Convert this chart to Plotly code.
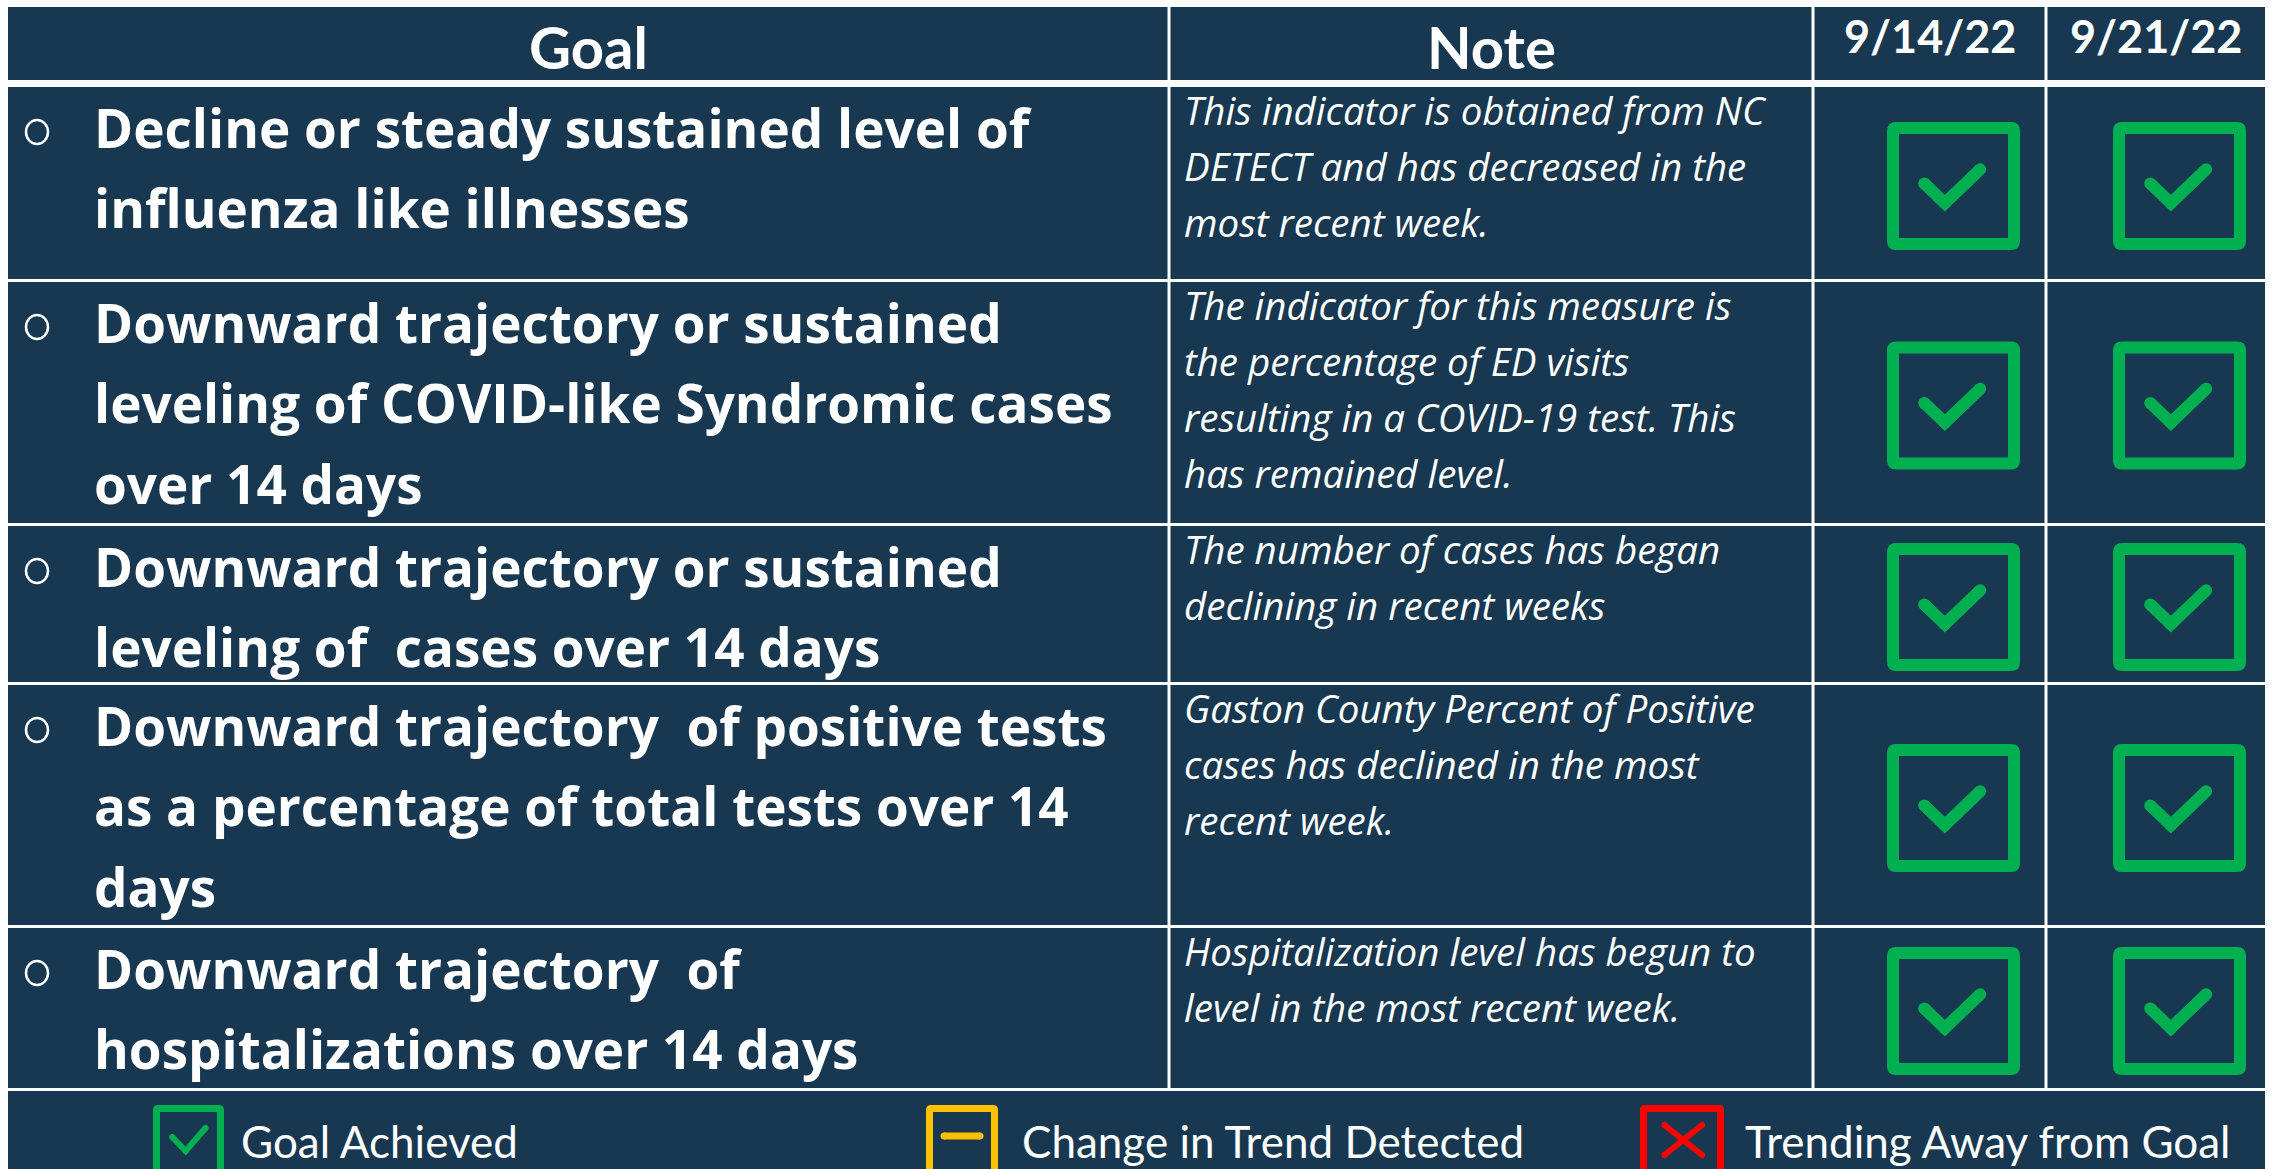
import plotly.graph_objects as go

# ---------------- data ----------------
headers = ["Goal", "Note"]
dates = ["9/14/22", "9/21/22"]

goals = [
    ["Decline or steady sustained level of", "influenza like illnesses"],
    ["Downward trajectory or sustained", "leveling of COVID-like Syndromic cases", "over 14 days"],
    ["Downward trajectory or sustained", "leveling of  cases over 14 days"],
    ["Downward trajectory  of positive tests", "as a percentage of total tests over 14", "days"],
    ["Downward trajectory  of", "hospitalizations over 14 days"],
]

notes = [
    ["This indicator is obtained from NC", "DETECT and has decreased in the", "most recent week."],
    ["The indicator for this measure is", "the percentage of ED visits",
     "resulting in a COVID-19 test. This", "has remained level."],
    ["The number of cases has began", "declining in recent weeks"],
    ["Gaston County Percent of Positive", "cases has declined in the most", "recent week."],
    ["Hospitalization level has begun to", "level in the most recent week."],
]

status = [
    ["achieved", "achieved"],
    ["achieved", "achieved"],
    ["achieved", "achieved"],
    ["achieved", "achieved"],
    ["achieved", "achieved"],
]

legend_keys = ["achieved", "change", "away"]
legend_labels = ["Goal Achieved", "Change in Trend Detected", "Trending Away from Goal"]

# ---------------- layout / style ----------------
W, H = 2272, 1169
NAVY = "#173850"
GREEN = "#00B050"
YELLOW = "#FFC000"
RED = "#FF0000"
HEAD_FONT = "Lato"
BODY_FONT = "Open Sans"

col_edges = [8, 1169, 1813, 2046, 2265]
header_span = (7, 80)
row_spans = [(87, 279), (282, 523), (526, 682), (685, 925), (928, 1088)]
legend_span = (1091, 1190)
legend_box_x = [(153, 224), (926, 998), (1640, 1724)]
legend_box_y = (1105, 1190)
legend_text_x = [239, 1020, 1743]

shapes = []
annotations = []
fig = go.Figure()


def rrect(x0, y0, x1, y1, r):
    return (f"M{x0+r},{y0} L{x1-r},{y0} Q{x1},{y0} {x1},{y0+r} L{x1},{y1-r} "
            f"Q{x1},{y1} {x1-r},{y1} L{x0+r},{y1} Q{x0},{y1} {x0},{y1-r} "
            f"L{x0},{y0+r} Q{x0},{y0} {x0+r},{y0} Z")


def cell(x0, x1, y0, y1):
    shapes.append(dict(type="rect", xref="x", yref="y", x0=x0, x1=x1, y0=y0, y1=y1,
                       fillcolor=NAVY, line=dict(width=0), layer="below"))


def stroke(xs, ys, color, width):
    fig.add_trace(go.Scatter(x=xs, y=ys, mode="lines+markers",
                             line=dict(color=color, width=width),
                             marker=dict(color=color, size=width, line=dict(width=0)),
                             hoverinfo="skip", showlegend=False))


def text(x, y, s, size, xanchor="left", bold=False, italic=False, family=BODY_FONT):
    annotations.append(dict(x=x, y=y, xref="x", yref="y", text=s, showarrow=False,
                            xanchor=xanchor, yanchor="middle",
                            font=dict(family=family, size=size, color="white",
                                      weight="bold" if bold else "normal",
                                      style="italic" if italic else "normal")))


def icon(kind, x0, y0, x1, y1, sw, r):
    color = {"achieved": GREEN, "change": YELLOW, "away": RED}[kind]
    shapes.append(dict(type="path", xref="x", yref="y", path=rrect(x0, y0, x1, y1, r),
                       fillcolor=color, line=dict(width=0), layer="below"))
    shapes.append(dict(type="rect", xref="x", yref="y", x0=x0 + sw, x1=x1 - sw,
                       y0=y0 + sw, y1=y1 - sw, fillcolor=NAVY, line=dict(width=0),
                       layer="below"))
    return color, x1 - x0, y1 - y0


gap = 1.5
# header cells and body cells
for c in range(4):
    xa = col_edges[c] + (gap if c > 0 else 0)
    xb = col_edges[c + 1] - (gap if c < 3 else 0)
    cell(xa, xb, *header_span)
    for (ya, yb) in row_spans:
        cell(xa, xb, ya, yb)
# legend band
cell(col_edges[0], col_edges[-1], *legend_span)

# header text
text((col_edges[0] + col_edges[1]) / 2, 46, headers[0], 58, "center", bold=True, family=HEAD_FONT)
text((col_edges[1] + col_edges[2]) / 2, 46, headers[1], 58, "center", bold=True, family=HEAD_FONT)
for j, d in enumerate(dates):
    text((col_edges[2 + j] + col_edges[3 + j]) / 2, 36, d, 45, "center", bold=True, family=HEAD_FONT)

# goal + note text
for i, (ya, yb) in enumerate(row_spans):
    for k, line in enumerate(goals[i]):
        text(92, ya + 40 + k * 80.5, line, 53, bold=True)
    # bullet
    by = ya + 45
    shapes.append(dict(type="circle", xref="x", yref="y", x0=26, x1=48, y0=by - 12, y1=by + 12,
                       line=dict(color="white", width=2.5), layer="above"))
    for k, line in enumerate(notes[i]):
        text(1182, ya + 23 + k * 56, line, 38.5, italic=True)

# status icons
BW, BH = 133, 128
for i, (ya, yb) in enumerate(row_spans):
    for j in range(2):
        cx = (col_edges[2 + j] + col_edges[3 + j]) / 2 + 24
        cy = (ya + yb) / 2 + 3
        x0, x1, y0, y1 = cx - BW / 2, cx + BW / 2, cy - BH / 2, cy + BH / 2
        kind = status[i][j]
        color, w, h = icon(kind, x0, y0, x1, y1, 12, 9)
        if kind == "achieved":
            stroke([x0 + 0.28 * w, x0 + 0.435 * w, x0 + 0.70 * w],
                   [y0 + 0.48 * h, y0 + 0.634 * h, y0 + 0.37 * h], color, 12)

# legend
for k, (kind, label) in enumerate(zip(legend_keys, legend_labels)):
    x0, x1 = legend_box_x[k]
    y0, y1 = legend_box_y
    color, w, h = icon(kind, x0, y0, x1, y1, 7, 5)
    if kind == "achieved":
        stroke([x0 + 0.27 * w, x0 + 0.46 * w, x0 + 0.74 * w],
               [y0 + 32, y0 + 46, y0 + 23], color, 6)
    elif kind == "change":
        stroke([x0 + 0.25 * w, x0 + 0.75 * w], [y0 + 31, y0 + 31], color, 7)
    else:
        stroke([x0 + 0.29 * w, x0 + 0.74 * w], [y0 + 20, y0 + 50], color, 6)
        stroke([x0 + 0.74 * w, x0 + 0.29 * w], [y0 + 20, y0 + 50], color, 6)
    text(legend_text_x[k], 1141, label, 44, family=HEAD_FONT)

fig.update_layout(
    width=W, height=H, margin=dict(l=0, r=0, t=0, b=0),
    paper_bgcolor="white", plot_bgcolor="rgba(0,0,0,0)",
    xaxis=dict(range=[0, W], visible=False, fixedrange=True),
    yaxis=dict(range=[H, 0], visible=False, fixedrange=True),
    shapes=shapes, annotations=annotations, showlegend=False,
)

fig.write_html("out.html", config={"displayModeBar": False},
               post_script="document.body.style.margin='0';document.body.style.overflow='hidden';")
